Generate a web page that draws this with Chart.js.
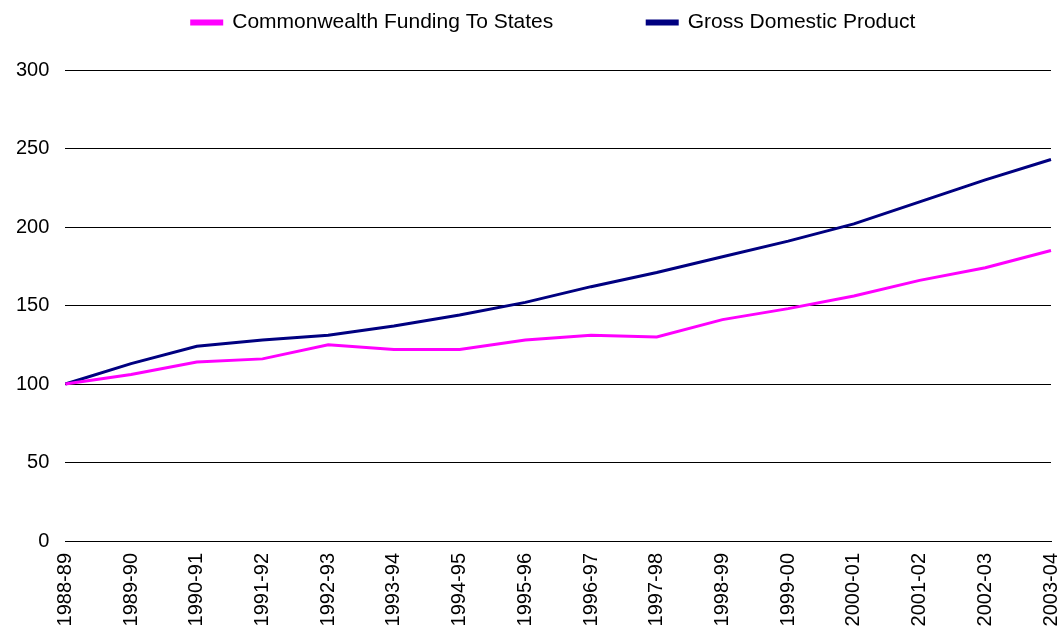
<!DOCTYPE html>
<html><head>
<script src="https://cdn.jsdelivr.net/npm/chart.js@4"></script>
<style>body{margin:0;background:#fff}#w{width:1060px;height:633px}</style>
</head><body><div id="w"><canvas id="c"></canvas></div>
<script>
const categories=["1988-89","1989-90","1990-91","1991-92","1992-93","1993-94","1994-95","1995-96","1996-97","1997-98","1998-99","1999-00","2000-01","2001-02","2002-03","2003-04"];
const commonwealth=[100,106,114,116,125,122,122,128,131,130,141,148,156,166,174,185];
const gdp=[100,113,124,128,131,137,144,152,162,171,181,191,202,216,230,243];
const yTicks=[0,50,100,150,200,250,300];
new Chart(document.getElementById('c'),{type:'line',
data:{labels:categories,datasets:[
{label:'Commonwealth Funding To States',data:commonwealth,borderColor:'#ff00ff',backgroundColor:'#ff00ff',borderWidth:3,pointRadius:0,tension:0},
{label:'Gross Domestic Product',data:gdp,borderColor:'#000080',backgroundColor:'#000080',borderWidth:3,pointRadius:0,tension:0}]},
options:{responsive:true,maintainAspectRatio:false,animation:false,
layout:{padding:{left:0,right:9,top:2,bottom:0}},
plugins:{legend:{labels:{boxWidth:30,boxHeight:3,color:'#000',font:{family:'Liberation Sans',size:21},padding:10,
  generateLabels:c=>Chart.defaults.plugins.legend.labels.generateLabels(c).map((l,i)=>{if(i===0)l.text+='\u2003\u2003\u2003\u2003';return l;})}},tooltip:{enabled:false}},
scales:{x:{grid:{display:false},border:{color:'#000'},afterFit:s=>{s.height=92;s.paddingRight=0;},ticks:{color:'#000',maxRotation:90,minRotation:90,padding:4,font:{family:'Liberation Sans',size:20}}},
y:{min:0,max:300,afterBuildTicks:a=>{a.ticks=yTicks.map(v=>({value:v}))},grid:{color:'#000',drawTicks:false},border:{display:false},ticks:{color:'#000',padding:16,font:{family:'Liberation Sans',size:20}}}}},
plugins:[{id:'lg',beforeInit(c){const f=c.legend.fit;c.legend.fit=function(){f.call(this);this.height+=27;}},
  afterLayout(c){c.legend.left+=28;c.legend.right+=28;}}]});
</script></body></html>
